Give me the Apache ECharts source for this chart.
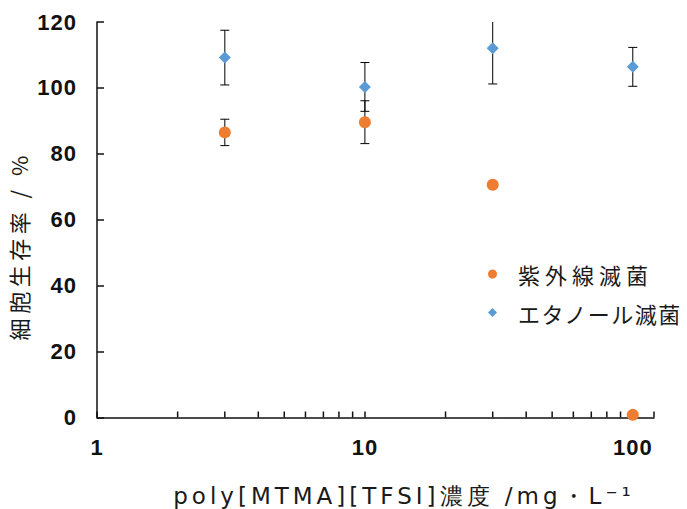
<!DOCTYPE html>
<html>
<head>
<meta charset="utf-8">
<script src="https://cdn.jsdelivr.net/npm/echarts@6/dist/echarts.min.js"></script>
<style>html,body{margin:0;padding:0;background:#fff;overflow:hidden;}#c{width:687px;height:509px;}</style>
</head>
<body>
<div id="c"></div>
<script>
// ---- data ----
const concentrations = [3, 10, 30, 100];
const uvValues = [86.5, 89.6, 70.6, 0.8];
const uvErrors = [4.0, 6.5, 0, 0];
const ethanolValues = [109.2, 100.3, 112.0, 106.4];
const ethanolErrors = [8.3, 7.4, 10.8, 5.9];
const minorTickValues = [2, 3, 4, 5, 6, 7, 8, 9, 20, 30, 40, 50, 60, 70, 80, 90];
const seriesNames = ['紫外線滅菌', 'エタノール滅菌'];
const yTitle = '細胞生存率 / %';
const xTitle = 'poly[MTMA][TFSI]濃度 /mg・L⁻¹';
const Y_MIN = 0, Y_MAX = 120, Y_STEP = 20;
const X_MIN = 1, X_MAX = 120;

const ORANGE = '#ED7D31', BLUE = '#5B9BD5';
const TEXT = '#1a1a1a';

function errData(xs, vals, errs) {
  return xs.map((x, i) => [x, vals[i] - errs[i], vals[i] + errs[i]]);
}

function errorBarRender(params, api) {
  const x = api.value(0);
  const lo = api.value(1), hi = api.value(2);
  if (hi - lo <= 0) return;
  const hiC = Math.min(hi, Y_MAX);
  const pHi = api.coord([x, hiC]);
  const pLo = api.coord([x, lo]);
  const cap = 4.5;
  const style = { stroke: '#000', lineWidth: 1 };
  const children = [
    { type: 'line', shape: { x1: pHi[0], y1: pHi[1], x2: pLo[0], y2: pLo[1] }, style }
  ];
  if (hi <= Y_MAX) children.push({ type: 'line', shape: { x1: pHi[0] - cap, y1: pHi[1], x2: pHi[0] + cap, y2: pHi[1] }, style });
  children.push({ type: 'line', shape: { x1: pLo[0] - cap, y1: pLo[1], x2: pLo[0] + cap, y2: pLo[1] }, style });
  return { type: 'group', children };
}

const chart = echarts.init(document.getElementById('c'), null, { renderer: 'svg' });
const option = {
  animation: false,
  backgroundColor: '#fff',
  grid: { left: 97, right: 33, top: 22, bottom: 91.5, containLabel: false, outerBoundsMode: 'none' },
  legend: {
    orient: 'vertical',
    left: 488,
    top: 262,
    padding: 0,
    itemWidth: 9,
    itemHeight: 9,
    itemGap: 14.5,
    data: [
      { name: seriesNames[0], icon: 'circle' },
      { name: seriesNames[1], icon: 'diamond' }
    ],
    textStyle: { fontFamily: 'Noto Sans CJK JP', fontSize: 22, color: TEXT, lineHeight: 24, padding: [0, 0, 0, 16] }
  },
  xAxis: {
    type: 'log',
    logBase: 10,
    min: X_MIN,
    max: X_MAX,
    name: xTitle,
    nameLocation: 'middle',
    nameGap: 67,
    nameTextStyle: {
      fontFamily: 'DejaVu Sans', fontSize: 23, color: TEXT,
      padding: [0, 0, 0, 57]
    },
    axisLine: { show: true, lineStyle: { color: '#111', width: 1.5 } },
    axisTick: { show: true, inside: true, length: 6, lineStyle: { color: '#111', width: 1.5 } },
    minorTick: { show: false },
    splitLine: { show: false },
    axisLabel: {
      margin: 19,
      fontFamily: 'Liberation Sans',
      fontWeight: 'bold',
      fontSize: 22,
      color: '#111',
      formatter: function (v) {
        const l = Math.log10(v);
        return Math.abs(l - Math.round(l)) < 1e-6 ? String(Math.round(v)) : '';
      }
    }
  },
  yAxis: {
    type: 'value',
    min: Y_MIN,
    max: Y_MAX,
    interval: Y_STEP,
    name: yTitle,
    nameLocation: 'middle',
    nameRotate: 90,
    nameGap: 62,
    nameTextStyle: { fontFamily: 'Noto Sans CJK JP', fontSize: 22, color: TEXT, padding: [0, 52, 0, 0] },
    axisLine: { show: true, lineStyle: { color: '#111', width: 1.5 } },
    axisTick: { show: true, inside: true, length: 7, lineStyle: { color: '#111', width: 1.5 } },
    splitLine: { show: false },
    axisLabel: { margin: 20, fontFamily: 'Liberation Sans', fontWeight: 'bold', fontSize: 22, color: '#111' }
  },
  series: [
    {
      type: 'custom',
      name: 'minorTicks',
      silent: true,
      z: 1,
      data: minorTickValues.map(v => [v, Y_MIN]),
      renderItem: function (params, api) {
        const p = api.coord([api.value(0), api.value(1)]);
        return { type: 'line', shape: { x1: p[0], y1: p[1], x2: p[0], y2: p[1] - 6 }, style: { stroke: '#111', lineWidth: 1.5 } };
      },
      clip: false
    },
    {
      type: 'custom',
      name: 'uvErr',
      z: 2,
      data: errData(concentrations, uvValues, uvErrors),
      renderItem: errorBarRender,
      encode: { x: 0, y: [1, 2] }
    },
    {
      type: 'custom',
      name: 'ethErr',
      z: 2,
      data: errData(concentrations, ethanolValues, ethanolErrors),
      renderItem: errorBarRender,
      encode: { x: 0, y: [1, 2] }
    },
    {
      type: 'scatter',
      name: seriesNames[0],
      symbol: 'circle',
      symbolSize: 12,
      z: 3,
      itemStyle: { color: ORANGE, opacity: 1 },
      data: concentrations.map((x, i) => [x, uvValues[i]])
    },
    {
      type: 'scatter',
      name: seriesNames[1],
      symbol: 'diamond',
      symbolSize: 12,
      z: 3,
      itemStyle: { color: BLUE, opacity: 1 },
      data: concentrations.map((x, i) => [x, ethanolValues[i]])
    }
  ]
};
chart.setOption(option);

// letter spacing (the reference text is set wide)
function applySpacing() {
  document.querySelectorAll('#c svg text').forEach(function (t) {
    const s = t.textContent;
    let ls = null;
    if (s === xTitle) ls = 4.0;
    else if (s === yTitle) ls = 4.5;
    else if (s === seriesNames[0]) ls = 5;
    else if (s === seriesNames[1]) ls = 1.5;
    else if (/^\d+$/.test(s)) ls = 1;
    if (ls !== null) t.setAttribute('letter-spacing', ls);
  });
}
applySpacing();
chart.on('finished', applySpacing);
</script>
</body>
</html>
